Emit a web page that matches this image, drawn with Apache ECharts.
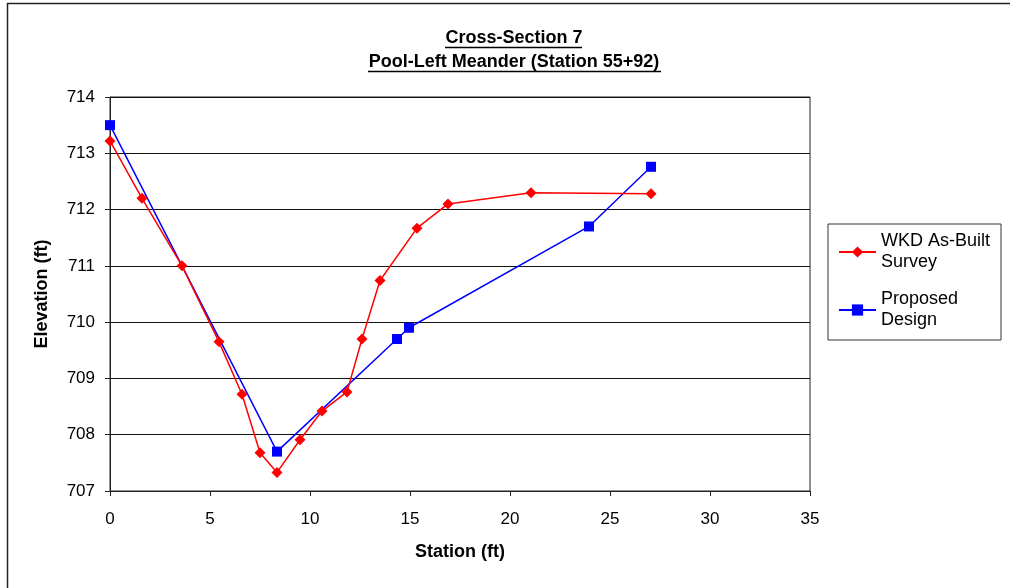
<!DOCTYPE html>
<html><head><meta charset="utf-8">
<script src="https://cdn.jsdelivr.net/npm/echarts@6/dist/echarts.min.js"></script>
<style>html,body{margin:0;padding:0;background:#fff}#c{width:1010px;height:588px}</style>
</head><body><div id="c"></div>
<script>
const titleLines = ["Cross-Section 7", "Pool-Left Meander (Station 55+92)"];
const xTicks = [0, 5, 10, 15, 20, 25, 30, 35];
const yTicks = [707, 708, 709, 710, 711, 712, 713, 714];
const asBuiltName = "WKD As-Built\nSurvey";
const asBuiltX = [0, 1.6, 3.6, 5.45, 6.6, 7.5, 8.35, 9.5, 10.6, 11.85, 12.6, 13.5, 15.35, 16.9, 21.05, 27.05];
const asBuiltY = [713.22, 712.2, 711.0, 709.65, 708.72, 707.68, 707.33, 707.91, 708.42, 708.76, 709.7, 710.74, 711.67, 712.1, 712.3, 712.28];
const designName = "Proposed\nDesign";
const designX = [0, 8.35, 14.35, 14.95, 23.95, 27.05];
const designY = [713.5, 707.7, 709.7, 709.9, 711.7, 712.76];

const zip = (a, b) => a.map((v, i) => [v, b[i]]);
const chart = echarts.init(document.getElementById('c'), null, {renderer: 'canvas'});
const font = 'Arial, "Liberation Sans", sans-serif';
chart.setOption({
  animation: false,
  backgroundColor: '#fff',
  title: {
    text: titleLines.join('\n'),
    left: 509, top: 21, textAlign: 'center',
    textStyle: {fontFamily: font, fontSize: 18, fontWeight: 'bold', color: '#000', lineHeight: 24}
  },
  graphic: [
    {type: 'line', shape: {x1: 7.5, y1: 3, x2: 7.5, y2: 588}, style: {stroke: '#222', lineWidth: 1.5}, silent: true},
    {type: 'line', shape: {x1: 7, y1: 3.5, x2: 1010, y2: 3.5}, style: {stroke: '#222', lineWidth: 1.5}, silent: true},
    {type: 'line', shape: {x1: 445, y1: 47.5, x2: 582, y2: 47.5}, style: {stroke: '#000', lineWidth: 1.5}},
    {type: 'line', shape: {x1: 368, y1: 71.5, x2: 661, y2: 71.5}, style: {stroke: '#000', lineWidth: 1.5}}
  ],
  legend: {
    orient: 'vertical', left: 828, top: 224,
    padding: [7, 11, 9, 10],
    itemGap: 16,
    itemWidth: 37, itemHeight: 14,
    borderColor: '#333', borderWidth: 1,
    textStyle: {fontFamily: font, fontSize: 18, color: '#000', lineHeight: 21},
    data: [asBuiltName, designName]
  },
  grid: {left: 110, right: 200, top: 97, bottom: 97, show: true, borderColor: '#222', borderWidth: 1},
  xAxis: {
    type: 'value', min: 0, max: 35, interval: 5,
    name: 'Station (ft)', nameLocation: 'middle', nameGap: 52,
    nameTextStyle: {fontFamily: font, fontSize: 18, fontWeight: 'bold', color: '#000'},
    axisLine: {show: true, onZero: false, lineStyle: {color: '#222'}},
    axisTick: {show: true, inside: false, length: 5, lineStyle: {color: '#222'}},
    axisLabel: {fontFamily: font, fontSize: 17, color: '#000', margin: 20},
    splitLine: {show: false}
  },
  yAxis: {
    type: 'value', min: 707, max: 714, interval: 1,
    name: 'Elevation (ft)', nameLocation: 'middle', nameGap: 59, nameRotate: 90,
    nameTextStyle: {fontFamily: font, fontSize: 18, fontWeight: 'bold', color: '#000'},
    axisLine: {show: true, lineStyle: {color: '#222'}},
    axisTick: {show: true, inside: false, length: 5, lineStyle: {color: '#222'}},
    axisLabel: {fontFamily: font, fontSize: 17, color: '#000', margin: 15},
    splitLine: {show: true, lineStyle: {color: '#111', width: 1}}
  },
  series: [
    {
      name: asBuiltName, type: 'line', data: zip(asBuiltX, asBuiltY),
      symbol: 'diamond', symbolSize: 11,
      itemStyle: {color: '#ff0000'}, lineStyle: {color: '#ff0000', width: 1.5}, z: 3
    },
    {
      name: designName, type: 'line', data: zip(designX, designY),
      symbol: 'rect', symbolSize: 10,
      itemStyle: {color: '#0000ff'}, lineStyle: {color: '#0000ff', width: 1.5}, z: 2
    }
  ]
});
</script></body></html>
